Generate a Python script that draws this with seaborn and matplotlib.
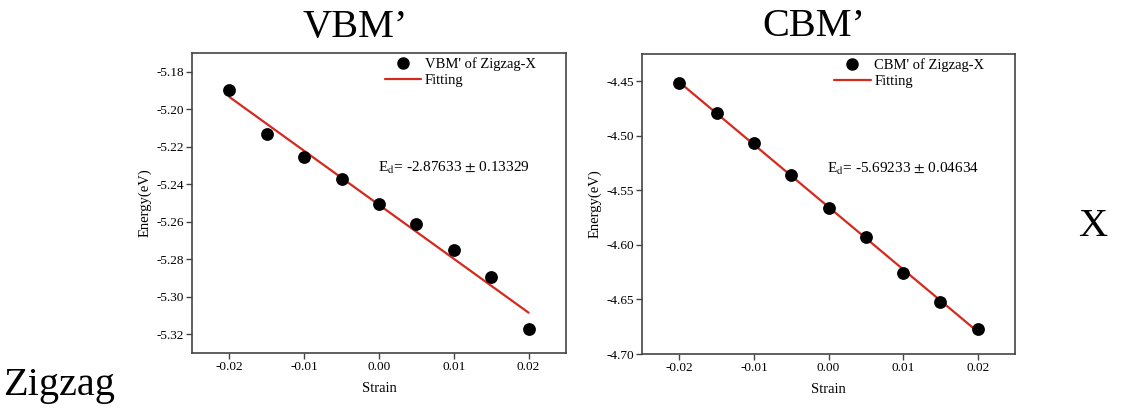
import numpy as np
import pandas as pd
import matplotlib
matplotlib.use("Agg")
import matplotlib.pyplot as plt
from matplotlib.lines import Line2D
import seaborn as sns

# Strain values and band-edge energies (eV)
strain = [-0.020, -0.015, -0.010, -0.005, 0.000, 0.005, 0.010, 0.015, 0.020]
vbm_energy = [-5.1897, -5.2133, -5.2252, -5.2371, -5.2505, -5.2612, -5.2748, -5.2897, -5.3173]
cbm_energy = [-4.4518, -4.4790, -4.5065, -4.5356, -4.5662, -4.5930, -4.6257, -4.6523, -4.6768]

vbm_ticks = [-5.18, -5.20, -5.22, -5.24, -5.26, -5.28, -5.30, -5.32]
cbm_ticks = [-4.45, -4.50, -4.55, -4.60, -4.65, -4.70]
x_ticks = [-0.02, -0.01, 0.00, 0.01, 0.02]

vbm_label = "VBM' of Zigzag-X"
cbm_label = "CBM' of Zigzag-X"
vbm_ed = r"E$_{\mathrm{d}}$= -2.87633 $\pm$ 0.13329"
cbm_ed = r"E$_{\mathrm{d}}$= -5.69233 $\pm$ 0.04634"

sns.set_theme(style="ticks")
plt.rcParams["font.family"] = ["Liberation Serif", "DejaVu Serif"]
plt.rcParams["mathtext.fontset"] = "stix"
plt.rcParams["text.color"] = "black"
plt.rcParams["axes.labelcolor"] = "black"
plt.rcParams["xtick.labelcolor"] = "black"
plt.rcParams["ytick.labelcolor"] = "black"

FIT_RED = "#d42a1e"
SPINE = "#444444"

fig = plt.figure(figsize=(11.21, 4.08), dpi=100)
W, H = 1121, 408
ax1 = fig.add_axes([192 / W, (H - 353) / H, 374 / W, 300 / H])
ax2 = fig.add_axes([642 / W, (H - 354) / H, 373 / W, 300 / H])


def draw(ax, energy, yticks, ylim, label, ed_text):
    df = pd.DataFrame({"Strain": strain, "Energy": energy})
    sns.regplot(data=df, x="Strain", y="Energy", ax=ax, ci=None, scatter=False,
                line_kws=dict(color=FIT_RED, lw=1.6))
    sns.scatterplot(data=df, x="Strain", y="Energy", ax=ax, color="black",
                    s=85, edgecolor="black", linewidth=0, zorder=3)
    ax.set_xlim(-0.025, 0.025)
    ax.set_ylim(*ylim)
    ax.set_xticks(x_ticks)
    ax.set_xticklabels([f"{t:.2f}" for t in x_ticks])
    ax.set_yticks(yticks)
    ax.set_yticklabels([f"{t:.2f}" for t in yticks])
    ax.set_xlabel("Strain", fontsize=10.5, labelpad=6)
    ax.set_ylabel("Energy(eV)", fontsize=10.5, labelpad=3)
    for sp in ax.spines.values():
        sp.set_visible(True)
        sp.set_color(SPINE)
        sp.set_linewidth(1.2)
    ax.tick_params(axis="both", direction="out", length=4, width=1,
                   color=SPINE, labelsize=9.5, pad=2)
    handles = [
        Line2D([], [], marker="o", ls="none", color="black", markersize=8),
        Line2D([], [], color=FIT_RED, lw=1.6),
    ]
    ax.legend(handles, [label, "Fitting"], loc="upper left",
              bbox_to_anchor=(0.515, 0.985), frameon=False, fontsize=10.5,
              handlelength=2.5, handletextpad=0.25, labelspacing=0.2,
              borderpad=0, borderaxespad=0)
    ax.text(0.497, 0.617, ed_text, transform=ax.transAxes, fontsize=11,
            ha="left", va="center")


draw(ax1, vbm_energy, vbm_ticks, (-5.33, -5.17), vbm_label, vbm_ed)
draw(ax2, cbm_energy, cbm_ticks, (-4.70, -4.425), cbm_label, cbm_ed)

fig.text(355 / W, 1 - 27 / H, "VBM\u2019", fontsize=29, ha="center", va="center")
fig.text(814 / W, 1 - 27 / H, "CBM\u2019", fontsize=29, ha="center", va="center")
fig.text(1093 / W, 1 - 226 / H, "X", fontsize=29, ha="center", va="center")
fig.text(3 / W, 1 - 386 / H, "Zigzag", fontsize=29, ha="left", va="center")

fig.savefig("out.png", dpi=100)
